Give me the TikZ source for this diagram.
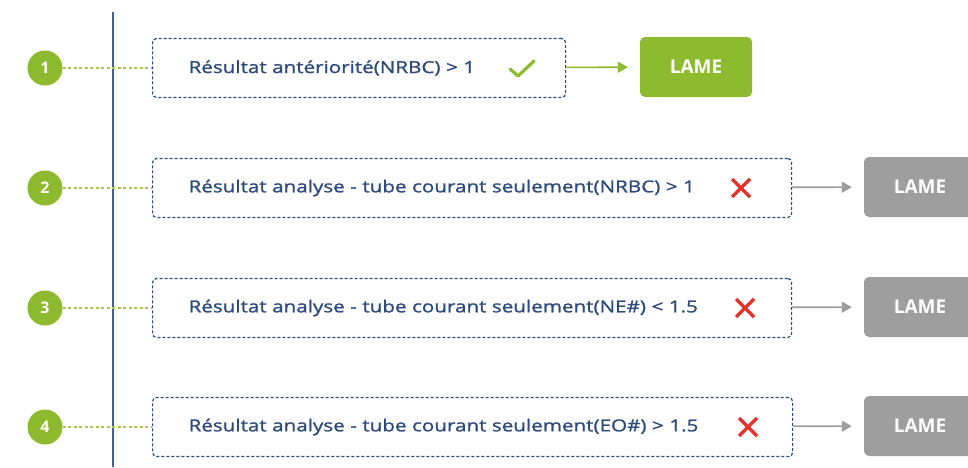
\documentclass[tikz,border=0pt]{standalone}
\usepackage{fontspec}
\setmainfont{Open Sans}
\newfontfamily\condfont{Open Sans}[FakeStretch=1.25, FakeBold=1.2]
\usepackage{tikz}
\usetikzlibrary{arrows.meta,positioning,calc}
\definecolor{limegreen}{RGB}{141,186,46}
\definecolor{dotgreen}{RGB}{168,200,80}
\definecolor{navyblue}{RGB}{44,74,124}
\definecolor{lineblue}{RGB}{62,96,156}
\definecolor{lamegray}{RGB}{158,158,158}
\definecolor{crossred}{RGB}{230,50,44}

\begin{document}
\begin{tikzpicture}[x=1pt,y=-1pt]
    % Define styles
    \tikzstyle{num} = [circle, fill=limegreen, minimum size=35pt, inner sep=0pt, text=white, font=\bfseries\fontsize{16}{16}\selectfont]
    \tikzstyle{cond} = [draw=navyblue, dash pattern=on 3pt off 2pt, line width=1.2pt, rounded corners=4pt, minimum height=59pt, inner xsep=36pt, anchor=west, align=left, text=navyblue, font=\condfont\fontsize{16.5}{18}\selectfont]
    \tikzstyle{lameok} = [rectangle, rounded corners=5pt, fill=limegreen, minimum width=112pt, minimum height=60pt, text=white, font=\bfseries\fontsize{19}{19}\selectfont]
    \tikzstyle{lameno} = [rectangle, rounded corners=5pt, fill=lamegray, minimum width=112pt, minimum height=60pt, text=white, font=\bfseries\fontsize{19}{19}\selectfont]
    \tikzstyle{okmark} = [minimum width=28pt, minimum height=22pt, path picture={
        \draw[limegreen, line width=3.2pt, line cap=round, line join=round]
            ($(path picture bounding box.center)+(-12,1)$) -- ++(8,7) -- ++(16,-15);}]
    \tikzstyle{nomark} = [minimum size=22pt, path picture={
        \draw[crossred, line width=3.4pt]
            ($(path picture bounding box.center)+(-9,-9)$) -- ++(18,18)
            ($(path picture bounding box.center)+(-9,9)$) -- ++(18,-18);}]
    \tikzstyle{dotline} = [dotgreen, line width=1.4pt, dash pattern=on 3pt off 2.5pt]
    \tikzstyle{okarrow} = [limegreen, line width=1.6pt, -{Triangle[length=10pt,width=11pt]}, shorten >=12pt]
    \tikzstyle{noarrow} = [lamegray, line width=1.6pt, -{Triangle[length=10pt,width=11pt]}, shorten >=12pt]

    \clip (0,0) rectangle (968,467);
    \fill[white] (0,0) rectangle (968,467);

    % Timeline
    \coordinate (top) at (113,12);
    \coordinate (bottom) at (113,467);
    \draw[lineblue, line width=2.2pt] (top) -- (bottom);

    % Steps
    \node[num] (n1) at (45,68) {1};
    \node[num] (n2) at (45,188) {2};
    \node[num] (n3) at (45,308) {3};
    \node[num] (n4) at (45,427) {4};

    % Conditions
    \node[cond, text width=341pt] (cond1) at (152,68) {Résultat antériorité(NRBC) > 1};
    \node[cond, text width=567pt] (cond2) at (152,188) {Résultat analyse - tube courant seulement(NRBC) > 1};
    \node[cond, text width=567pt] (cond3) at (152,308) {Résultat analyse - tube courant seulement(NE\#) < 1.5};
    \node[cond, text width=568pt] (cond4) at (152,427) {Résultat analyse - tube courant seulement(EO\#) > 1.5};

    % Marks
    \node[okmark] (ok1) at (522,68) {};
    \node[nomark] (no2) at (741,188) {};
    \node[nomark] (no3) at (745,308) {};
    \node[nomark] (no4) at (748,427) {};

    % Results
    \node[lameok] (lame1) at (696,67) {LAME};
    \node[lameno] (lame2) at (920,187) {LAME};
    \node[lameno] (lame3) at (920,307) {LAME};
    \node[lameno] (lame4) at (920,426) {LAME};

    % Connectors
    \draw[dotline] (n1) -- (cond1);
    \draw[dotline] (n2) -- (cond2);
    \draw[dotline] (n3) -- (cond3);
    \draw[dotline] (n4) -- (cond4);

    \draw[okarrow] (cond1) -- (lame1);
    \draw[noarrow] (cond2) -- (lame2);
    \draw[noarrow] (cond3) -- (lame3);
    \draw[noarrow] (cond4) -- (lame4);
\end{tikzpicture}
\end{document}
